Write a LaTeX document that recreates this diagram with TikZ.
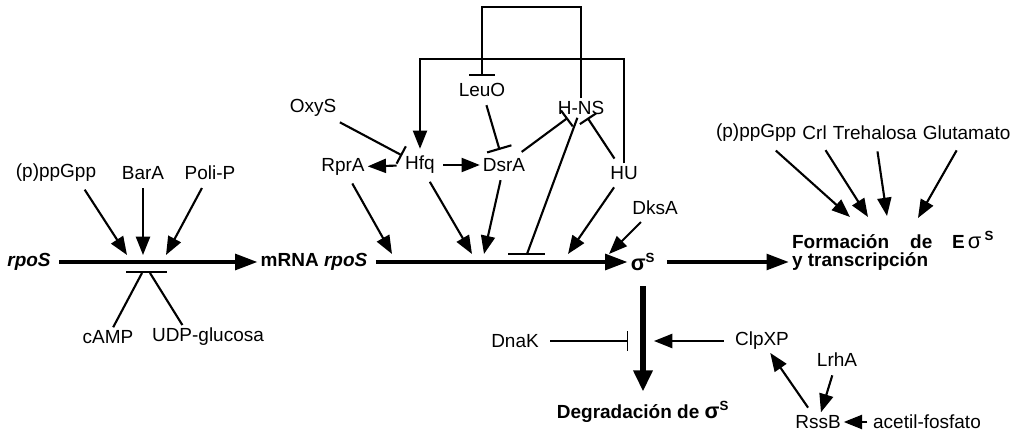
\documentclass[tikz,border=0pt]{standalone}
\usepackage{fontspec}
\setmainfont{Liberation Sans}
\usetikzlibrary{arrows.meta, positioning}
\newcommand{\sigmaS}{{\fontsize{15.5}{16}\selectfont σ}\textsuperscript{S}}

\begin{document}
\begin{tikzpicture}[
x=0.025cm, y=-0.025cm,
    txt/.style={inner sep=2pt, font=\fontsize{13.5}{15}\selectfont},
    boldtxt/.style={inner sep=2pt, font=\fontsize{13.5}{15}\selectfont\bfseries},
    line/.style={draw, line width=1.5pt},
    act/.style={draw, line width=1.5pt, shorten <=4pt, -{Triangle[length=13pt, width=10pt]}},
    inh/.style={draw, line width=1.5pt, shorten <=4pt, -{Bar[width=14pt]}},
    mainarrow/.style={draw, line width=3pt, shorten <=4pt, -{Triangle[length=16pt, width=11pt]}},
    degarrow/.style={draw, line width=4.2pt, -{Triangle[length=15pt, width=13pt]}}
]
    \useasboundingbox (0,0) rectangle (1014,432);

    % Left: rpoS
    \node[boldtxt] (rposA) at (29,262) {\textit{rpoS}};
    \node[txt] (ppgppA) at (56,173) {(p)ppGpp};
    \node[txt] (bara) at (143,173) {BarA};
    \node[txt] (polip) at (210,173) {Poli-P};
    \node[txt] (camp) at (108,337) {cAMP};
    \node[txt] (udpg) at (208,337) {UDP-glucosa};
    \node[boldtxt] (mrna) at (314,262) {mRNA \textit{rpoS}};

    \coordinate (a1) at (127,255);
    \coordinate (a2) at (143,255);
    \coordinate (a3) at (166,255);
    \coordinate (bar1) at (146,272);
    \coordinate (b1) at (142,273);
    \coordinate (b2) at (150,273);

    \draw[mainarrow] (rposA) -- (mrna);
    \draw[act] (ppgppA.-25) -- (a1);
    \draw[act] (bara) -- (a2);
    \draw[act] (polip) -- (a3);
    \draw[line] (bar1) ++(-20,0) -- ++(41,0);
    \draw[line] (camp) -- (b1);
    \draw[line] (udpg.155) -- (b2);

    % Middle: regulators of mRNA rpoS
    \node[txt] (oxys) at (313,108) {OxyS};
    \node[txt] (rpra) at (343,167) {RprA};
    \node[txt] (hfq) at (420,165) {Hfq};
    \node[txt] (dsra) at (504,165) {DsrA};
    \node[txt] (leuo) at (482,90) {LeuO};
    \node[txt] (hns) at (581,108) {H-NS};
    \node[txt] (hu) at (624,173) {HU};
    \node[txt] (dksa) at (655,208) {DksA};
    \node[boldtxt] (sig) at (643,262) {\sigmaS};

    \coordinate (m1) at (392,254);
    \coordinate (m2) at (472,254);
    \coordinate (m3) at (484,254);
    \coordinate (hnsbar) at (527,254);
    \coordinate (m4) at (568,254);
    \coordinate (m5) at (609,254);
    \coordinate (rtop) at (0,7);
    \coordinate (ltop) at (0,59);

    % Feedback loops
    \draw[inh, -{Bar[width=18pt]}, shorten <=0pt, shorten >=3pt] (hns.north) -- (hns.north |- rtop) -| (leuo.north);
    \draw[act, shorten <=0pt, shorten >=3pt] (hu.north) -- (hu.north |- ltop) -| (hfq.north);

    \draw[inh] (oxys) -- (hfq);
    \draw[act] (hfq) -- (rpra);
    \draw[act] (hfq) -- (dsra);
    \draw[inh, -{Bar[width=18pt]}, shorten >=4pt] (leuo) -- (dsra);
    \draw[inh] (dsra) -- (hns);
    \draw[inh] (hu) -- (hns);
    \draw[line] (hns) -- (hnsbar);
    \draw[line] (hnsbar) ++(-19,0) -- ++(37,0);

    \draw[act] (rpra) -- (m1);
    \draw[act] (hfq) -- (m2);
    \draw[act] (dsra) -- (m3);
    \draw[act] (hu) -- (m4);
    \draw[act] (dksa) -- (m5);
    \draw[mainarrow] (mrna) -- (sig);

    % Right: holoenzyme formation
    \node[txt, anchor=west] (ppgppB) at (713,133) {(p)ppGpp};
    \node[txt, right=0pt of ppgppB] (crl) {Crl};
    \node[txt, right=0pt of crl] (treh) {Trehalosa};
    \node[txt, right=0pt of treh] (glut) {Glutamato};
    \node[boldtxt, anchor=west] (form1) at (789,240) {Formación\hspace{15pt}de\hspace{14pt}E\,{\mdseries\fontsize{15.5}{16}\selectfont σ}\,\textsuperscript{S}};
    \node[boldtxt, anchor=west] (form2) at (789,262) {y transcripción};

    \coordinate (f1) at (850,217);
    \coordinate (f2) at (868,217);
    \coordinate (f3) at (887,216);
    \coordinate (f4) at (918,218);

    \draw[act, shorten <=6pt] (ppgppB) -- (f1);
    \draw[act, shorten <=6pt] (crl) -- (f2);
    \draw[act, shorten <=6pt] (treh) -- (f3);
    \draw[act, shorten <=6pt] (glut) -- (f4);
    \draw[mainarrow, shorten <=6pt] (sig) -- (form2);

    % Bottom: degradation
    \node[boldtxt] (degr) at (643,412) {Degradación de \sigmaS};
    \node[txt] (dnak) at (515,341) {DnaK};
    \node[txt] (clpxp) at (762,341) {ClpXP};
    \node[txt] (lrha) at (837,360) {LrhA};
    \node[txt] (rssb) at (818,422) {RssB};
    \node[txt] (acet) at (927,422) {acetil-fosfato};

    \coordinate (dk) at (628,341);
    \coordinate (ck) at (654,341);

    \draw[degarrow, shorten <=9pt, shorten >=5pt] (sig) -- (degr);
    \draw[inh, line width=1pt, shorten <=6pt] (dnak) -- (dk);
    \draw[act, shorten <=6pt] (clpxp) -- (ck);
    \draw[act] (rssb) -- (clpxp);
    \draw[act] (lrha) -- (rssb);
    \draw[act, shorten <=2pt] (acet) -- (rssb);

\end{tikzpicture}
\end{document}
